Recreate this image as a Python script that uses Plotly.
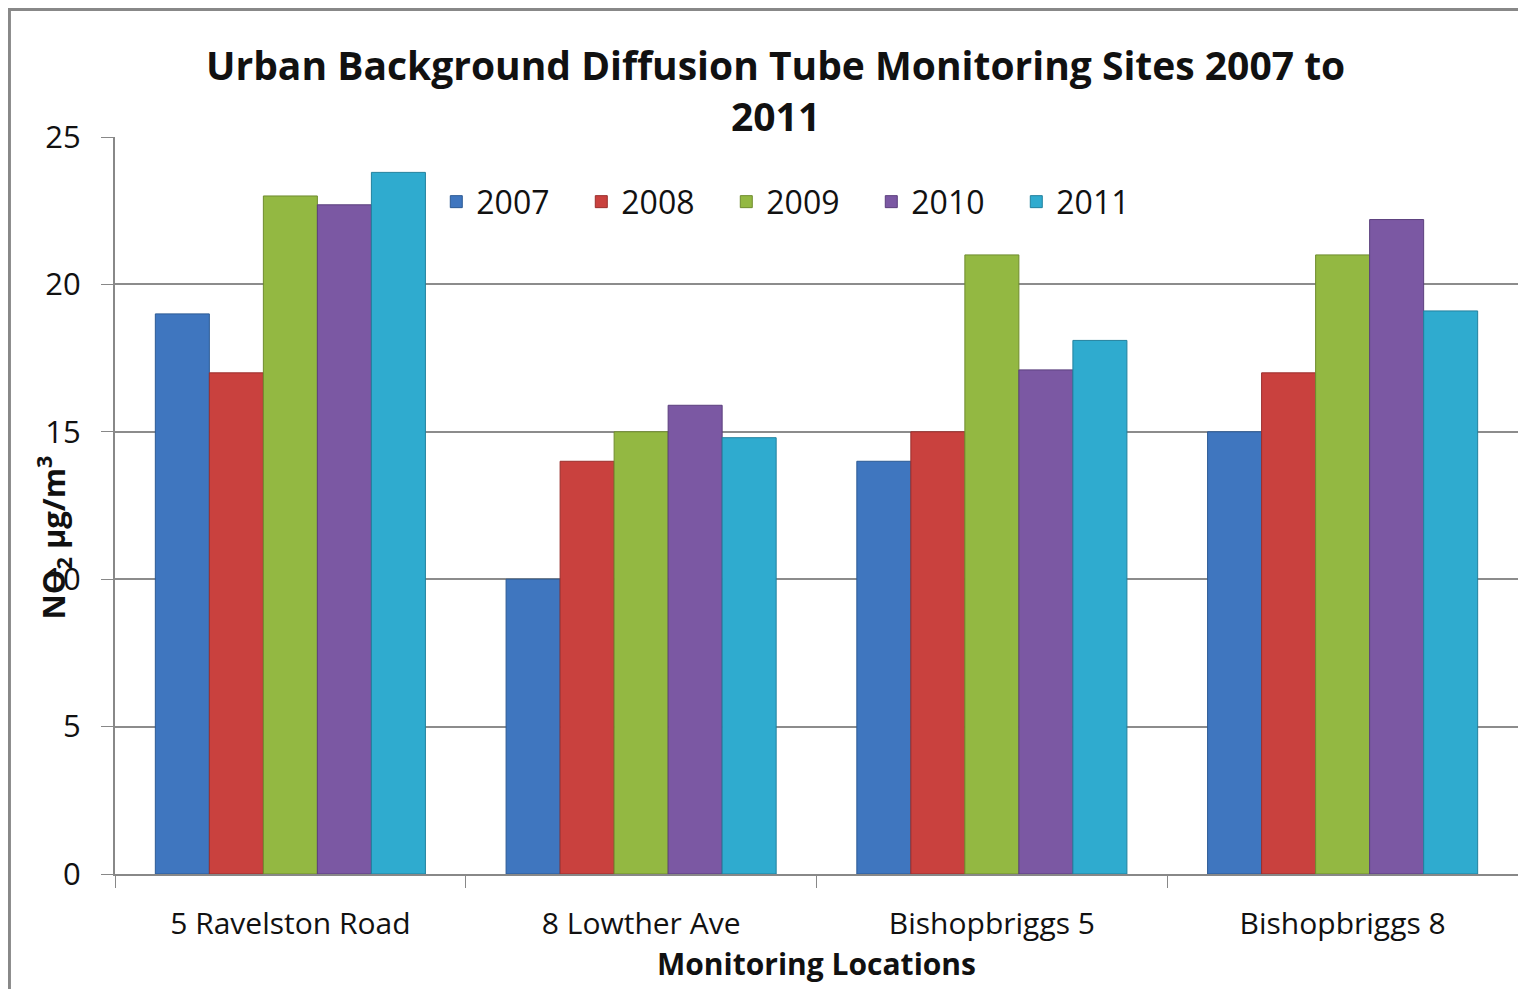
import plotly.graph_objects as go

# data
locations = ['5 Ravelston Road', '8 Lowther Ave', 'Bishopbriggs 5', 'Bishopbriggs 8']
years = ['2007', '2008', '2009', '2010', '2011']
no2_2007 = [19, 10, 14, 15]
no2_2008 = [17, 14, 15, 17]
no2_2009 = [23, 15, 21, 21]
no2_2010 = [22.7, 15.9, 17.1, 22.2]
no2_2011 = [23.8, 14.8, 18.1, 19.1]

series = [no2_2007, no2_2008, no2_2009, no2_2010, no2_2011]
colors = ['#3f76bf', '#c9413e', '#93b842', '#7b58a3', '#2fabcf']
edges = ['#2c5a94', '#9a2f2d', '#6f8c2e', '#5b3f7d', '#21819e']

FONT = 'Open Sans'
TXT = '#111111'

fig = go.Figure()
for yr, vals, c, e in zip(years, series, colors, edges):
    fig.add_trace(go.Bar(x=locations, y=vals, name=yr,
                         marker=dict(color=c, line=dict(color=e, width=1))))

# page body adds an 8px offset, so the figure is a bit smaller than the window
fig.update_layout(
    width=1518, height=981,
    paper_bgcolor='white', plot_bgcolor='white',
    margin=dict(l=107, r=8, t=129, b=115),
    font=dict(family=FONT, size=30, color=TXT),
    barmode='group', bargap=0.23, bargroupgap=0,
    legend=dict(orientation='h', x=0.229, y=0.912, xanchor='left', yanchor='middle',
                bgcolor='rgba(0,0,0,0)', font=dict(family=FONT, size=32, color=TXT),
                entrywidth=100, entrywidthmode='pixels', itemwidth=30),
    showlegend=True,
)

fig.update_xaxes(
    tickson='boundaries', ticks='outside', ticklen=12, tickcolor='#888888',
    showline=True, linecolor='#888888', linewidth=2,
    tickfont=dict(family=FONT, size=30, color=TXT), ticklabelstandoff=22,
    title=dict(text='<b>Monitoring Locations</b>', standoff=0,
               font=dict(family=FONT, size=30, color=TXT)),
)
fig.update_yaxes(
    range=[0, 25], dtick=5, ticks='outside', ticklen=12, tickcolor='#888888',
    showline=True, linecolor='#888888', linewidth=2,
    showgrid=True, gridcolor='#8c8c8c', gridwidth=1.5,
    tickfont=dict(family=FONT, size=31, color=TXT), ticklabelstandoff=14,
    zeroline=False,
)

# chart title
fig.add_annotation(text='<b>Urban Background Diffusion Tube Monitoring Sites 2007 to<br>2011</b>',
                   xref='paper', yref='paper', x=0.471, y=1.064,
                   xanchor='center', yanchor='middle', showarrow=False,
                   font=dict(family=FONT, size=39, color=TXT))

# y-axis title placed like the original (overlaps the tick labels)
fig.add_annotation(text='<b>NO<sub>2</sub> µg/m<sup>3</sup></b>', textangle=-90,
                   xref='paper', yref='paper', x=-0.044, y=0.457,
                   xanchor='center', yanchor='middle', showarrow=False,
                   font=dict(family=FONT, size=31, color=TXT))

# outer chart frame
fig.add_shape(type='rect', xref='paper', yref='paper',
              x0=-0.0756, y0=-0.2, x1=1.05, y1=1.1737,
              line=dict(color='#888888', width=4), layer='below')

fig.write_html('out.html')
